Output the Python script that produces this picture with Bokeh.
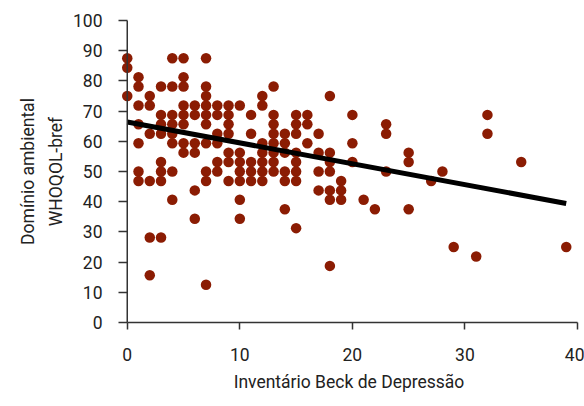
from bokeh.plotting import figure
from bokeh.models import Range1d, FixedTicker, Title, Span
from bokeh.embed import file_html
from bokeh.resources import INLINE

# Inventário Beck de Depressão (x) and WHOQOL-bref environmental domain (y)
bdi_scores = (
    [0] * 3 + [1] * 7 + [2] * 6 + [3] * 8 + [4] * 8 + [5] * 8 + [6] * 6 + [7] * 10
    + [8] * 6 + [9] * 7 + [10] * 7 + [11] * 5 + [12] * 7 + [13] * 8 + [14] * 6
    + [15] * 8 + [16] * 3 + [17] * 4 + [18] * 7 + [19] * 3 + [20] * 3
    + [21, 22, 23, 23, 23, 25, 25, 25, 27, 28, 29, 31, 32, 32, 35, 39]
)
whoqol_env = [
    87.5, 84.375, 75,
    81.25, 78.125, 71.875, 65.625, 59.375, 50, 46.875,
    75, 71.875, 62.5, 46.875, 28.125, 15.625,
    78.125, 68.75, 65.625, 62.5, 53.125, 50, 46.875, 28.125,
    87.5, 78.125, 68.75, 65.625, 62.5, 59.375, 50, 40.625,
    87.5, 81.25, 78.125, 71.875, 68.75, 65.625, 59.375, 56.25,
    71.875, 68.75, 59.375, 56.25, 43.75, 34.375,
    87.5, 78.125, 75, 71.875, 68.75, 65.625, 59.375, 50, 46.875, 12.5,
    71.875, 68.75, 62.5, 59.375, 53.125, 50,
    71.875, 68.75, 65.625, 62.5, 56.25, 53.125, 46.875,
    71.875, 56.25, 53.125, 50, 46.875, 40.625, 34.375,
    68.75, 62.5, 53.125, 50, 46.875,
    75, 71.875, 59.375, 56.25, 53.125, 50, 46.875,
    78.125, 68.75, 65.625, 62.5, 59.375, 56.25, 53.125, 50,
    62.5, 59.375, 56.25, 50, 46.875, 37.5,
    68.75, 65.625, 62.5, 56.25, 53.125, 50, 46.875, 31.25,
    68.75, 65.625, 59.375,
    62.5, 56.25, 50, 43.75,
    75, 56.25, 53.125, 50, 43.75, 40.625, 18.75,
    46.875, 43.75, 40.625,
    68.75, 59.375, 53.125,
    40.625, 37.5, 65.625, 62.5, 50, 56.25, 53.125, 37.5, 46.875, 50, 25, 21.875,
    68.75, 62.5, 53.125, 25,
]

# linear trend line
trend_intercept = 66.4
trend_slope = -0.692
trend_x = [0, 39]

x_ticks = [0, 10, 20, 30, 40]
y_ticks = [0, 10, 20, 30, 40, 50, 60, 70, 80, 90, 100]
y_title_line1 = "Domínio ambiental"
y_title_line2 = "WHOQOL-bref"
x_title = "Inventário Beck de Depressão"

FONT = "Roboto"
TEXT = "#222222"
AXIS = "#333333"

p = figure(
    width=584, height=406,
    x_range=Range1d(-0.6, 40), y_range=Range1d(0, 100),
    output_backend="svg", toolbar_location=None,
    min_border_left=120, min_border_right=7,
    min_border_top=20, min_border_bottom=84,
)
p.outline_line_color = None
p.grid.visible = False
p.background_fill_color = "white"
p.border_fill_color = "white"

# y axis line drawn at x = 0 (frame starts slightly left so dots at 0 are whole)
p.add_layout(Span(location=0, dimension="height", line_color=AXIS, line_width=1.5))

p.scatter(bdi_scores, whoqol_env, size=10.5, fill_color="#8B1C03",
          line_color="#8B1C03", line_width=0)

trend_y = [trend_intercept + trend_slope * v for v in trend_x]
p.line(trend_x, trend_y, line_color="black", line_width=5)

for ax in (p.xaxis[0], p.yaxis[0]):
    ax.axis_line_color = AXIS
    ax.axis_line_width = 1.5
    ax.major_tick_line_color = AXIS
    ax.major_tick_line_width = 1.5
    ax.minor_tick_line_color = None
    ax.major_label_text_font = FONT
    ax.major_label_text_font_size = "17.5px"
    ax.major_label_text_color = TEXT
    ax.axis_label_text_font = FONT
    ax.axis_label_text_font_size = "17.5px"
    ax.axis_label_text_font_style = "normal"
    ax.axis_label_text_color = TEXT

p.xaxis.major_tick_in = 0
p.xaxis.major_tick_out = 7
p.yaxis.axis_line_color = None
p.yaxis.major_tick_in = 7
p.yaxis.major_tick_out = 2

p.xaxis.ticker = FixedTicker(ticks=x_ticks)
p.yaxis.ticker = FixedTicker(ticks=y_ticks)
p.xaxis.bounds = (0, 40)
p.xaxis.major_label_standoff = 18
p.yaxis.major_label_standoff = 16
p.xaxis.axis_label = x_title
p.yaxis.axis_label = y_title_line2
p.xaxis.axis_label_standoff = 8
p.yaxis.axis_label_standoff = 4

t = Title(text=y_title_line1, align="center", text_font=FONT,
          text_font_size="17.5px", text_font_style="normal",
          text_color=TEXT, standoff=10)
p.add_layout(t, "left")

open("out.html", "w").write(file_html(p, INLINE))
